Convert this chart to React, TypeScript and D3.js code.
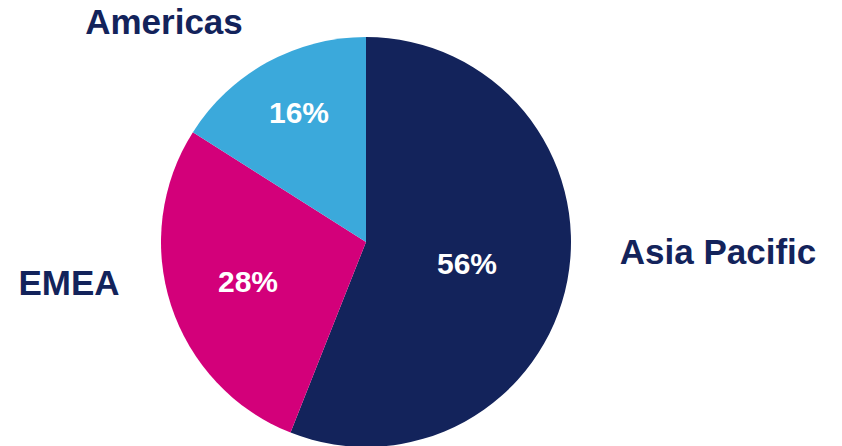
import React, { useEffect } from 'react';
import * as d3 from 'd3';

const regions = ['Asia Pacific', 'EMEA', 'Americas'];
const shares = [56, 28, 16];
const colors = ['#13235B', '#D3007A', '#3BA9DB'];

// label placement (text centre x, baseline y) in page pixels
const nameSpots = {
  'Asia Pacific': [718, 264],
  EMEA: [69, 295],
  Americas: [164, 34],
};
const pctSpots = {
  'Asia Pacific': [467, 274],
  EMEA: [248, 292],
  Americas: [299, 123],
};

const App = () => {
  useEffect(() => {
    document.body.style.margin = '0';
  }, []);

  const width = 842,
    height = 446;
  const cx = 366,
    cy = 242,
    radius = 205;

  const data = regions.map((name, i) => ({ name, value: shares[i], color: colors[i] }));
  const pie = d3
    .pie()
    .sort(null)
    .value((d) => d.value);
  const arc = d3.arc().innerRadius(0).outerRadius(radius);
  const slices = pie(data);

  const font = '"Liberation Sans", Arial, sans-serif';

  return (
    <svg width={width} height={height} style={{ display: 'block', background: '#fff' }}>
      <g transform={`translate(${cx},${cy})`}>
        {slices.map((s) => (
          <path key={s.data.name} d={arc(s)} fill={s.data.color} />
        ))}
      </g>
      {slices.map((s) => (
        <text
          key={'p' + s.data.name}
          x={pctSpots[s.data.name][0]}
          y={pctSpots[s.data.name][1]}
          textAnchor="middle"
          fill="#fff"
          fontFamily={font}
          fontWeight="bold"
          fontSize={30}
        >
          {s.data.value}%
        </text>
      ))}
      {slices.map((s) => (
        <text
          key={'n' + s.data.name}
          x={nameSpots[s.data.name][0]}
          y={nameSpots[s.data.name][1]}
          textAnchor="middle"
          fill="#13235B"
          fontFamily={font}
          fontWeight="bold"
          fontSize={35}
        >
          {s.data.name}
        </text>
      ))}
    </svg>
  );
};

export default App;
